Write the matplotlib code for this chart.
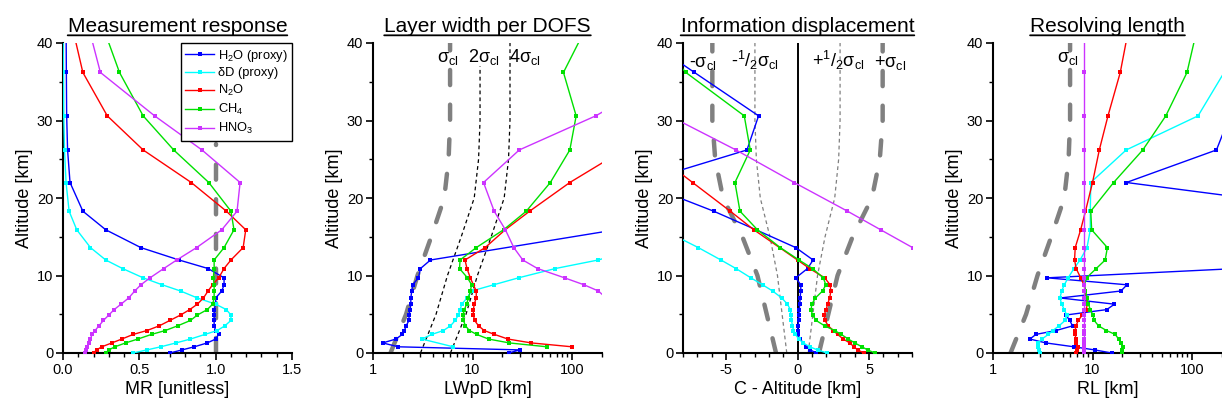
import numpy as np
import matplotlib
matplotlib.use("Agg")
import matplotlib.pyplot as plt
from matplotlib.ticker import MultipleLocator, LogLocator, FuncFormatter, NullFormatter

nan = np.nan

# retrieval levels [km] (last one is above the plotted range)
alt = [0.0, 0.4, 0.8, 1.3, 1.8, 2.4, 2.9, 3.5, 4.2, 4.9, 5.6, 6.3, 7.1, 8.0, 8.8,
       9.7, 10.9, 12.0, 13.6, 15.9, 18.3, 22.0, 26.2, 30.6, 36.2, 43.0]

species = ["H$_\\mathregular{2}$O (proxy)", "δD (proxy)", "N$_\\mathregular{2}$O",
           "CH$_\\mathregular{4}$", "HNO$_\\mathregular{3}$"]
colors = ["#0000FF", "#00FFFF", "#FF0000", "#00E000", "#CC33FF"]

# measurement response
mr_h2o = [0.70, 0.78, 0.86, 0.945, 1.0, 1.02, 1.0, 0.99, 0.99, 0.99, 0.99, 1.0, 1.0,
          1.04, 1.055, 1.055, 0.95, 0.76, 0.51, 0.28, 0.13, 0.046, 0.03, 0.024, 0.022, 0.02]
mr_hdo = [0.46, 0.55, 0.64, 0.74, 0.835, 0.93, 1.01, 1.06, 1.10, 1.10, 1.07, 1.0, 0.88,
          0.77, 0.65, 0.525, 0.39, 0.28, 0.18, 0.09, 0.04, 0.02, 0.01, 0.005, 0.003, 0.0]
mr_n2o = [0.20, 0.22, 0.254, 0.32, 0.385, 0.46, 0.55, 0.63, 0.70, 0.77, 0.83, 0.88, 0.92,
          0.95, 0.98, 1.02, 1.055, 1.10, 1.18, 1.197, 1.07, 0.84, 0.525, 0.29, 0.13, 0.05]
mr_ch4 = [0.28, 0.30, 0.34, 0.41, 0.49, 0.58, 0.67, 0.75, 0.835, 0.88, 0.945, 0.98, 0.99,
          0.99, 0.99, 0.985, 0.99, 0.99, 1.055, 1.12, 1.10, 0.955, 0.725, 0.525, 0.37, 0.245]
mr_hno3 = [0.145, 0.15, 0.16, 0.17, 0.18, 0.19, 0.21, 0.235, 0.265, 0.30, 0.335, 0.38, 0.43,
           0.47, 0.51, 0.57, 0.66, 0.745, 0.875, 1.04, 1.14, 1.16, 0.91, 0.60, 0.245, 0.155]

# layer width per DOFS [km]
lw_h2o = [23, 30, 1.8, 1.25, 1.7, 1.97, 2.07, 2.15, 2.3, 2.3, 2.36, 2.4, 2.4, 2.45, 2.5,
          2.86, 3.0, 3.78, nan, 275, 600, 900, 1200, 1500, 2000, 2500]
lw_hdo = [nan, nan, 6.4, nan, 3.1, 3.9, 5.1, 6.0, 6.7, 7.2, 7.5, 7.8, 8.8, 9.8, 16.3,
          29, 68, 183, 500, 900, 1500, 2000, 2500, 3000, 3500, 4000]
lw_n2o = [nan, nan, 100, 39, 22.7, 16.6, 13.1, 11.5, 10.5, 10.2, 10.2, 10.4, 10.9, 10.9,
          10.2, 9.5, 8.8, 8.4, 13.4, 21.3, 37.5, 95, 330, 800, 1500, 2500]
lw_ch4 = [nan, nan, 56, 23.4, 14.5, 11.0, 9.3, 8.5, 8.1, 8.0, 8.3, 8.7, 9.1, 9.5, 9.8,
          8.9, 7.4, 7.5, 10.9, 20.5, 34.7, 60.5, 95, 110, 82, 152]
lw_hno3 = [3000, 2500, 2000, 1600, 1300, 1100, 900, 800, 700, 600, 500, 400, 220, 184,
           132, 84, 45, 32, 26, 21.4, 16.5, 12.9, 29.5, 173, 1000, 2000]

# information displacement, C - altitude [km]
cd_h2o = [1.3, 0.9, 0.6, 0.4, 0.19, 0.0, 0.0, 0.05, 0.07, 0.1, 0.12, 0.16, 0.18, 0.23,
          0.23, -0.12, 0.7, 1.09, -0.12, -2.9, -5.86, -11, -3.53, -2.72, -7.2, -12.6]
cd_hdo = [2.05, 1.4, 0.85, 0.4, 0.1, -0.15, -0.28, -0.35, -0.42, -0.47, -0.5, -0.7, -1.1,
          -1.74, -2.44, -3.26, -4.3, -5.35, -6.93, -9.4, -13, -18, -22, -26, -30, -35]
cd_n2o = [4.65, 4.2, 3.95, 3.65, 3.2, 2.8, 2.5, 2.15, 1.92, 1.86, 2.0, 2.1, 2.25, 2.33,
          2.28, 1.9, 0.85, 0.0, -1.25, -3.05, -4.7, -7.33, -10.3, -13.5, -17.5, -22]
cd_ch4 = [5.4, 4.9, 4.5, 4.0, 3.55, 3.05, 2.6, 1.9, 1.3, 1.05, 0.95, 1.0, 1.25, 1.75,
          1.98, 1.8, 1.05, 0.1, -1.2, -2.8, -4.02, -4.37, -3.3, -3.72, -7.8, -11]
cd_hno3 = [22, 21.6, 21.2, 20.7, 20.2, 19.6, 19.1, 18.5, 17.8, 17.1, 16.4, 15.7, 14.9,
           14.0, 13.2, 12.3, 11.1, 9.6, 8.04, 5.81, 3.49, -0.23, -4.3, -8.95, -15, -22]

# resolving length [km]
rl_h2o = [15.6, 10.5, 6.5, 3.4, 2.35, 2.7, 4.3, 6.3, 5.9, 5.4, 13.9, 16.6, 4.75, 19.3,
          22.2, 3.5, 280, 1000, 2000, 3000, 3600, 21.9, 176, 240, 500, 600]
rl_hdo = [3.0, 2.9, 2.8, 2.85, 3.1, 3.6, 4.0, 4.6, 5.3, 5.5, 5.2, 4.9, 4.7, 4.9, 5.2,
          5.7, 6.5, 7.5, 8.8, 9.5, 9.5, 9.6, 21.8, 115, 210, 400]
rl_n2o = [6.9, 7.0, 7.1, 6.9, 6.8, 6.7, 6.7, 6.8, 7.2, 7.9, 8.6, 8.9, 8.7, 8.5, 8.2,
          7.6, 6.85, 6.6, 6.7, 7.6, 8.5, 10.0, 11.7, 14.3, 19.0, 24.0]
rl_ch4 = [19.7, 20.0, 20.2, 19.5, 18.3, 16.9, 13.8, 11.5, 10.4, 10.1, 9.5, 9.1, 8.8, 8.5,
          8.3, 8.7, 10.9, 13.4, 14.1, 9.8, 9.6, 16.3, 32, 54.5, 89, 118]
rl_hno3 = [8.3, 8.3, 8.3, 8.3, 8.3, 8.3, 8.3, 8.3, 8.3, 8.3, 8.3, 8.3, 8.3, 8.3, 8.3,
           8.3, 8.3, 8.3, 8.3, 8.3, 8.3, 8.3, 8.3, 8.3, 8.3, 8.3]

# a-priori correlation length
cl_alt = [0, 5, 10, 15, 20, 25, 30, 37, 40]
sigma_cl = [1.5, 2.15, 2.8, 3.85, 5.2, 5.75, 5.95, 5.95, 5.95]
mr_ideal = [1.0, 1.0]
mr_ideal_alt = [0, 27]

plt.rcParams["font.family"] = ["Liberation Sans", "DejaVu Sans"]
plt.rcParams["mathtext.fontset"] = "custom"
plt.rcParams["mathtext.rm"] = "Liberation Sans"
plt.rcParams["mathtext.it"] = "Liberation Sans:italic"
plt.rcParams["axes.unicode_minus"] = False

W, H = 1222, 409
fig = plt.figure(figsize=(W / 100, H / 100), dpi=100)

panels = [
    ("Measurement response", "MR [unitless]", [mr_h2o, mr_hdo, mr_n2o, mr_ch4, mr_hno3]),
    ("Layer width per DOFS", "LWpD [km]", [lw_h2o, lw_hdo, lw_n2o, lw_ch4, lw_hno3]),
    ("Information displacement", "C - Altitude [km]", [cd_h2o, cd_hdo, cd_n2o, cd_ch4, cd_hno3]),
    ("Resolving length", "RL [km]", [rl_h2o, rl_hdo, rl_n2o, rl_ch4, rl_hno3]),
]
lefts = [63, 373, 683, 993]

gray_kw = dict(color="#808080", lw=3.2, dashes=(3.4, 4.4), dash_capstyle="round", zorder=1)
z = np.array(alt)
sig = np.array(sigma_cl)
cz = np.array(cl_alt)

axes = []
for i, (title, xlabel, series) in enumerate(panels):
    ax = fig.add_axes([lefts[i] / W, (H - 353) / H, 229 / W, 310 / H])
    axes.append(ax)
    for vals, c, lab in zip(series, colors, species):
        x = np.asarray(vals, float)
        m = np.isfinite(x)
        ax.plot(x[m], z[m], "-s", color=c, lw=1, ms=3, mew=0, label=lab, zorder=3)

    ax.set_ylim(0, 40)
    ax.yaxis.set_major_locator(MultipleLocator(10))
    ax.yaxis.set_minor_locator(MultipleLocator(5))
    ax.set_ylabel("Altitude [km]", fontsize=13, labelpad=3)
    ax.set_xlabel(xlabel, fontsize=13, labelpad=3)
    t = ax.set_title(title, fontsize=15, pad=8)
    # underline: a plain line along the bottom edge of the title's box
    ax.annotate("", xy=(1, 0.03), xycoords=t, xytext=(0, 0.03), textcoords=t,
                arrowprops=dict(arrowstyle="-", lw=1.3, color="black",
                                shrinkA=0, shrinkB=0),
                annotation_clip=False)
    for s in ["top", "right"]:
        ax.spines[s].set_visible(False)
    for s in ["left", "bottom"]:
        ax.spines[s].set_linewidth(1.5)
    ax.tick_params(which="major", direction="out", length=5, width=1.2, labelsize=10.5, pad=2)
    ax.tick_params(which="minor", direction="out", length=3, width=1.0)

# panel 1
ax = axes[0]
ax.plot(mr_ideal, mr_ideal_alt, **gray_kw)
ax.set_xlim(0, 1.5)
ax.xaxis.set_major_locator(MultipleLocator(0.5))
ax.xaxis.set_minor_locator(MultipleLocator(0.1))
ax.xaxis.set_major_formatter(FuncFormatter(lambda v, p: f"{v:.1f}"))
ax.legend(loc="upper right", bbox_to_anchor=(1, 1), borderaxespad=0, fontsize=9.3,
          fancybox=False, framealpha=1, edgecolor="black", handlelength=2.2,
          handletextpad=0.3, borderpad=0.35, labelspacing=0.3)

# log panels
for ax in (axes[1], axes[3]):
    ax.set_xscale("log")
    ax.set_xlim(1, 200)
    ax.xaxis.set_major_locator(LogLocator(base=10))
    ax.xaxis.set_minor_locator(LogLocator(base=10, subs=np.arange(2, 10)))
    ax.xaxis.set_minor_formatter(NullFormatter())
    ax.xaxis.set_major_formatter(FuncFormatter(lambda v, p: f"{v:g}"))
    ax.plot(sig, cz, **gray_kw)

ax = axes[1]
ax.plot(2 * sig[:-1], cz[:-1], color="black", lw=0.9, dashes=(3, 2.5), zorder=1)
ax.plot(4 * sig, cz, color="black", lw=0.9, dashes=(3, 2.5), zorder=1)
lab_kw = dict(fontsize=13, ha="center", va="baseline")
ax.text(5.7, 37.5, "σ$_\\mathregular{cl}$", **lab_kw)
ax.text(13.1, 37.5, "2σ$_\\mathregular{cl}$", **lab_kw)
ax.text(33.9, 37.5, "4σ$_\\mathregular{cl}$", **lab_kw)

ax = axes[3]
ax.text(5.6, 37.5, "σ$_\\mathregular{cl}$", **lab_kw)

# panel 3
ax = axes[2]
ax.set_xlim(-8, 8)
ax.xaxis.set_major_locator(MultipleLocator(5))
ax.xaxis.set_minor_locator(MultipleLocator(1))
ax.plot(-sig, cz, **gray_kw)
ax.plot(sig, cz, **gray_kw)
ax.plot(-0.5 * sig, cz, color="#808080", lw=0.9, dashes=(3, 2.5), zorder=1)
ax.plot(0.5 * sig, cz, color="#808080", lw=0.9, dashes=(3, 2.5), zorder=1)
ax.plot([0, 0], [0, 40], color="black", lw=1.4, zorder=2)
ax.text(-6.6, 36.9, "-σ$_\\mathregular{cl}$", **lab_kw)
ax.text(-3.0, 36.9, "-$^\\mathregular{1}$/$_\\mathregular{2}$σ$_\\mathregular{cl}$", **lab_kw)
ax.text(2.85, 36.9, "+$^\\mathregular{1}$/$_\\mathregular{2}$σ$_\\mathregular{cl}$", **lab_kw)
ax.text(6.45, 36.9, "+σ$_\\mathregular{cl}$", **lab_kw)

fig.savefig("out.png", dpi=100)
